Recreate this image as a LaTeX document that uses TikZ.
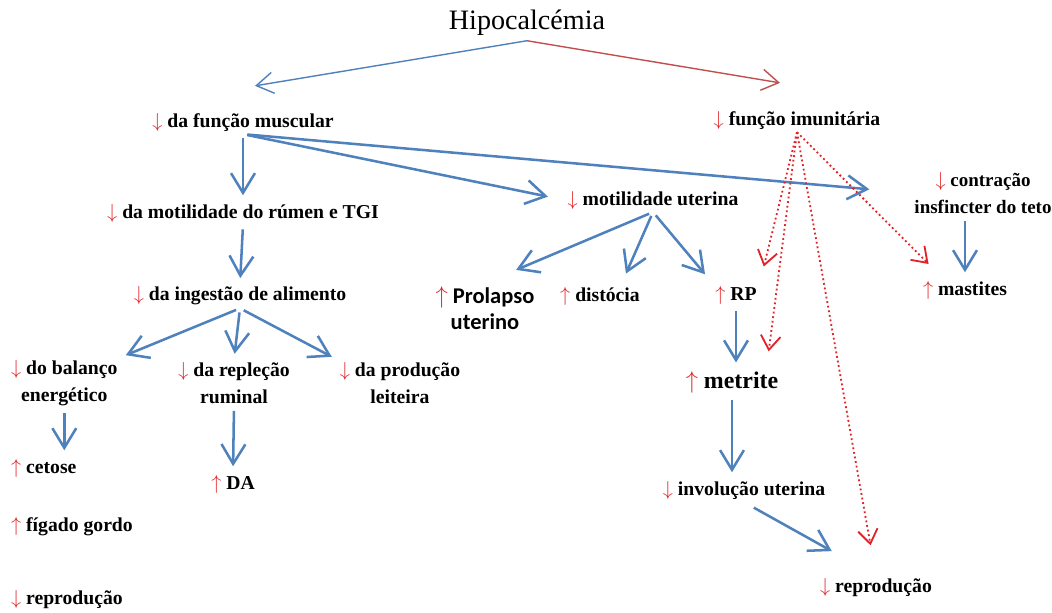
\documentclass[tikz,border=0pt]{standalone}
\usepackage{fontspec}
\setmainfont{Liberation Serif}
\newfontfamily\calibri{Carlito}
\usetikzlibrary{arrows.meta,calc}
\definecolor{azul}{RGB}{79,129,189}
\definecolor{verm}{RGB}{225,35,40}
\definecolor{vermtopo}{RGB}{192,80,77}
\newcommand{\decr}{\textcolor{verm}{$\downarrow$}}
\newcommand{\incr}{\textcolor{verm}{$\uparrow$}}
\tikzset{
  rotulo/.style={font=\bfseries\fontsize{14}{19}\selectfont, align=center, inner sep=2pt},
  seta/.style={draw=azul, line width=1.8pt, shorten <=3pt, shorten >=4pt,
    -{Straight Barb[length=14pt,width=17pt]}},
  setatopo/.style={line width=1pt, -{Straight Barb[length=12pt,width=15pt]}},
  pontilhada/.style={draw=verm, dotted, line width=1.3pt,
    -{Straight Barb[length=10pt,width=14pt]}}
}
\begin{document}
\begin{tikzpicture}[x=0.025cm,y=-0.025cm]
\useasboundingbox (0,0) rectangle (1052,612);
% topo
\node[font=\fontsize{20}{24}\selectfont] (hipo) at (527,23) {Hipocalcémia};
\node[rotulo] (musc) at (243,122) {\decr\ da função muscular};
\node[rotulo] (imun) at (797,120) {\decr\ função imunitária};
% ramo muscular
\node[rotulo] (rumen) at (243,213) {\decr\ da motilidade do rúmen e TGI};
\node[rotulo] (uter) at (653,200) {\decr\ motilidade uterina};
\node[rotulo, font=\bfseries\fontsize{13.5}{19}\selectfont] (teto) at (983,193) {\decr\ contração\\insfincter do teto};
\node[rotulo] (inges) at (240,296) {\decr\ da ingestão de alimento};
\node[rotulo, font=\calibri\bfseries\fontsize{16}{19}\selectfont] (prol) at (485,308) {\incr\ Prolapso\\uterino};
\node[rotulo] (dist) at (600,296) {\incr\ distócia};
\node[rotulo] (rp) at (736,295) {\incr\ RP};
\node[rotulo] (mast) at (965,290) {\incr\ mastites};
\node[rotulo, anchor=west] (balanco) at (8,383) {\decr\ do balanço\\energético};
\node[rotulo] (replecao) at (234,383) {\decr\ da repleção\\ruminal};
\node[rotulo] (leite) at (400,383) {\decr\ da produção\\leiteira};
\node[rotulo, font=\bfseries\fontsize{17}{20}\selectfont] (metr) at (732,382) {\incr\ metrite};
\node[rotulo, anchor=west] (cetose) at (8,468) {\incr\ cetose};
\node[rotulo] (da) at (233,484) {\incr\ DA};
\node[rotulo, anchor=west] (figado) at (8,527) {\incr\ fígado gordo};
\node[rotulo] (involu) at (744,490) {\decr\ involução uterina};
\node[rotulo, anchor=west] (repro) at (8,600) {\decr\ reprodução};
\node[rotulo] (reproB) at (876,588) {\decr\ reprodução};

\draw[setatopo, draw=azul] (hipo.south) -- ($(musc.north)+(12,-24)$);
\draw[setatopo, draw=vermtopo] (hipo.south) -- ($(imun.north)+(-17,-25)$);

\draw[seta] (musc.south) -- (rumen.north);
\draw[seta, shorten >=12pt] (musc.south) -- (uter.west);
\draw[seta, shorten >=30pt] (musc.south) -- (teto.west);
\draw[seta] (rumen.south) -- (inges.north);
\draw[seta] (inges.south) -- (balanco.north east);
\draw[seta] (inges.south) -- (replecao.north);
\draw[seta] (inges.south) -- (leite.north west);
\draw[seta] (balanco.south) -- (balanco.south |- cetose.north);
\draw[seta] (replecao.south) -- (da.north);
\draw[seta, shorten >=24pt] (uter.south) -- (prol.north);
\draw[seta, shorten >=8pt] (uter.south) -- ($(dist.north)!0.5!(dist.north east)$);
\draw[seta, shorten >=8pt] (uter.south) -- (rp.north west);
\draw[seta] (rp.south) -- (rp.south |- metr.north);
\draw[seta] (metr.south) -- (metr.south |- involu.north);
\draw[seta, shorten <=8pt, shorten >=36pt] (involu.south) -- (reproB.north);
\draw[seta] (mast.north |- teto.south) -- (mast.north);

\draw[pontilhada, shorten >=12pt] (imun.south) -- (rp.north east);
\draw[pontilhada, shorten >=12pt] (imun.south) -- ($(metr.north)!0.7!(metr.north east)$);
\draw[pontilhada, shorten >=22pt] (imun.south) -- (reproB.north);
\draw[pontilhada, shorten >=14pt] (imun.south) -- ($(mast.north west)!0.5!(mast.north)$);
\end{tikzpicture}
\end{document}
